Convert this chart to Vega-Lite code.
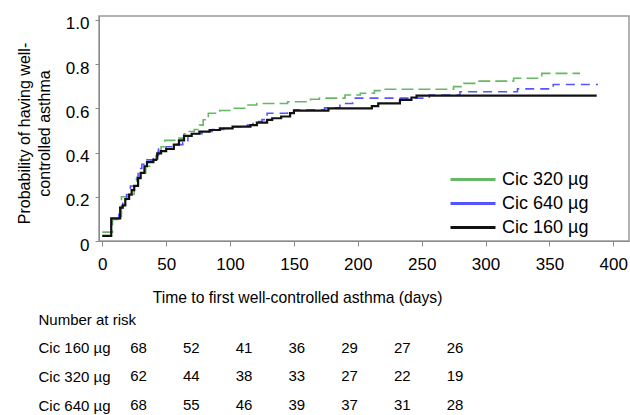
{
  "$schema": "https://vega.github.io/schema/vega-lite/v6.json",
  "autosize": {"type": "none"},
  "width": 530,
  "height": 225,
  "padding": {"left": 99, "top": 16, "right": 1, "bottom": 174},
  "config": {
    "font": "Liberation Sans",
    "view": {"stroke": "#9a9a9a", "strokeWidth": 1.5},
    "axis": {"grid": false, "domainColor": "#8a8a8a", "tickColor": "#8a8a8a", "labelColor": "#000", "titleColor": "#000", "titleFontWeight": "normal"}
  },
  "datasets": {
    "km": [
      {"group": "Cic 320 µg", "day": 0, "p": 0.040}, {"group": "Cic 320 µg", "day": 8, "p": 0.097}, {"group": "Cic 320 µg", "day": 15, "p": 0.200}, {"group": "Cic 320 µg", "day": 22, "p": 0.210}, {"group": "Cic 320 µg", "day": 25, "p": 0.249}, {"group": "Cic 320 µg", "day": 27, "p": 0.288}, {"group": "Cic 320 µg", "day": 30, "p": 0.308}, {"group": "Cic 320 µg", "day": 34, "p": 0.338}, {"group": "Cic 320 µg", "day": 38, "p": 0.367}, {"group": "Cic 320 µg", "day": 42, "p": 0.406}, {"group": "Cic 320 µg", "day": 46, "p": 0.426}, {"group": "Cic 320 µg", "day": 49, "p": 0.455}, {"group": "Cic 320 µg", "day": 60, "p": 0.465}, {"group": "Cic 320 µg", "day": 64, "p": 0.485}, {"group": "Cic 320 µg", "day": 68, "p": 0.495}, {"group": "Cic 320 µg", "day": 72, "p": 0.504}, {"group": "Cic 320 µg", "day": 76, "p": 0.524}, {"group": "Cic 320 µg", "day": 79, "p": 0.548}, {"group": "Cic 320 µg", "day": 83, "p": 0.578}, {"group": "Cic 320 µg", "day": 92, "p": 0.590}, {"group": "Cic 320 µg", "day": 102, "p": 0.600}, {"group": "Cic 320 µg", "day": 113, "p": 0.615}, {"group": "Cic 320 µg", "day": 121, "p": 0.622}, {"group": "Cic 320 µg", "day": 145, "p": 0.630}, {"group": "Cic 320 µg", "day": 163, "p": 0.641}, {"group": "Cic 320 µg", "day": 170, "p": 0.646}, {"group": "Cic 320 µg", "day": 190, "p": 0.660}, {"group": "Cic 320 µg", "day": 202, "p": 0.668}, {"group": "Cic 320 µg", "day": 213, "p": 0.680}, {"group": "Cic 320 µg", "day": 219, "p": 0.686}, {"group": "Cic 320 µg", "day": 275, "p": 0.698}, {"group": "Cic 320 µg", "day": 283, "p": 0.713}, {"group": "Cic 320 µg", "day": 293, "p": 0.723}, {"group": "Cic 320 µg", "day": 322, "p": 0.736}, {"group": "Cic 320 µg", "day": 344, "p": 0.758}, {"group": "Cic 320 µg", "day": 374, "p": 0.758},
      {"group": "Cic 640 µg", "day": 0, "p": 0.023}, {"group": "Cic 640 µg", "day": 7, "p": 0.102}, {"group": "Cic 640 µg", "day": 13, "p": 0.151}, {"group": "Cic 640 µg", "day": 16, "p": 0.171}, {"group": "Cic 640 µg", "day": 19, "p": 0.210}, {"group": "Cic 640 µg", "day": 22, "p": 0.249}, {"group": "Cic 640 µg", "day": 26, "p": 0.279}, {"group": "Cic 640 µg", "day": 28, "p": 0.328}, {"group": "Cic 640 µg", "day": 31, "p": 0.347}, {"group": "Cic 640 µg", "day": 35, "p": 0.367}, {"group": "Cic 640 µg", "day": 40, "p": 0.387}, {"group": "Cic 640 µg", "day": 44, "p": 0.416}, {"group": "Cic 640 µg", "day": 50, "p": 0.426}, {"group": "Cic 640 µg", "day": 57, "p": 0.436}, {"group": "Cic 640 µg", "day": 63, "p": 0.445}, {"group": "Cic 640 µg", "day": 67, "p": 0.475}, {"group": "Cic 640 µg", "day": 72, "p": 0.485}, {"group": "Cic 640 µg", "day": 78, "p": 0.495}, {"group": "Cic 640 µg", "day": 86, "p": 0.504}, {"group": "Cic 640 µg", "day": 95, "p": 0.509}, {"group": "Cic 640 µg", "day": 102, "p": 0.517}, {"group": "Cic 640 µg", "day": 110, "p": 0.524}, {"group": "Cic 640 µg", "day": 118, "p": 0.540}, {"group": "Cic 640 µg", "day": 125, "p": 0.549}, {"group": "Cic 640 µg", "day": 129, "p": 0.578}, {"group": "Cic 640 µg", "day": 145, "p": 0.585}, {"group": "Cic 640 µg", "day": 150, "p": 0.593}, {"group": "Cic 640 µg", "day": 174, "p": 0.602}, {"group": "Cic 640 µg", "day": 186, "p": 0.622}, {"group": "Cic 640 µg", "day": 196, "p": 0.646}, {"group": "Cic 640 µg", "day": 256, "p": 0.660}, {"group": "Cic 640 µg", "day": 280, "p": 0.675}, {"group": "Cic 640 µg", "day": 325, "p": 0.688}, {"group": "Cic 640 µg", "day": 353, "p": 0.708}, {"group": "Cic 640 µg", "day": 388, "p": 0.708},
      {"group": "Cic 160 µg", "day": 0, "p": 0.023}, {"group": "Cic 160 µg", "day": 7, "p": 0.102}, {"group": "Cic 160 µg", "day": 14, "p": 0.151}, {"group": "Cic 160 µg", "day": 16, "p": 0.161}, {"group": "Cic 160 µg", "day": 18, "p": 0.190}, {"group": "Cic 160 µg", "day": 21, "p": 0.210}, {"group": "Cic 160 µg", "day": 23, "p": 0.230}, {"group": "Cic 160 µg", "day": 25, "p": 0.249}, {"group": "Cic 160 µg", "day": 28, "p": 0.284}, {"group": "Cic 160 µg", "day": 30, "p": 0.308}, {"group": "Cic 160 µg", "day": 33, "p": 0.338}, {"group": "Cic 160 µg", "day": 35, "p": 0.357}, {"group": "Cic 160 µg", "day": 40, "p": 0.367}, {"group": "Cic 160 µg", "day": 43, "p": 0.396}, {"group": "Cic 160 µg", "day": 46, "p": 0.406}, {"group": "Cic 160 µg", "day": 50, "p": 0.416}, {"group": "Cic 160 µg", "day": 56, "p": 0.436}, {"group": "Cic 160 µg", "day": 60, "p": 0.455}, {"group": "Cic 160 µg", "day": 64, "p": 0.475}, {"group": "Cic 160 µg", "day": 70, "p": 0.485}, {"group": "Cic 160 µg", "day": 76, "p": 0.495}, {"group": "Cic 160 µg", "day": 84, "p": 0.502}, {"group": "Cic 160 µg", "day": 92, "p": 0.509}, {"group": "Cic 160 µg", "day": 102, "p": 0.517}, {"group": "Cic 160 µg", "day": 116, "p": 0.524}, {"group": "Cic 160 µg", "day": 121, "p": 0.535}, {"group": "Cic 160 µg", "day": 129, "p": 0.548}, {"group": "Cic 160 µg", "day": 133, "p": 0.555}, {"group": "Cic 160 µg", "day": 140, "p": 0.563}, {"group": "Cic 160 µg", "day": 147, "p": 0.578}, {"group": "Cic 160 µg", "day": 150, "p": 0.590}, {"group": "Cic 160 µg", "day": 177, "p": 0.600}, {"group": "Cic 160 µg", "day": 211, "p": 0.610}, {"group": "Cic 160 µg", "day": 216, "p": 0.622}, {"group": "Cic 160 µg", "day": 233, "p": 0.638}, {"group": "Cic 160 µg", "day": 242, "p": 0.649}, {"group": "Cic 160 µg", "day": 246, "p": 0.657}, {"group": "Cic 160 µg", "day": 387, "p": 0.657}
    ],
    "risk": [
      {"row": "Cic 160 µg", "time": 0, "n": 68}, {"row": "Cic 160 µg", "time": 50, "n": 52}, {"row": "Cic 160 µg", "time": 100, "n": 41}, {"row": "Cic 160 µg", "time": 150, "n": 36}, {"row": "Cic 160 µg", "time": 200, "n": 29}, {"row": "Cic 160 µg", "time": 250, "n": 27}, {"row": "Cic 160 µg", "time": 300, "n": 26},
      {"row": "Cic 320 µg", "time": 0, "n": 62}, {"row": "Cic 320 µg", "time": 50, "n": 44}, {"row": "Cic 320 µg", "time": 100, "n": 38}, {"row": "Cic 320 µg", "time": 150, "n": 33}, {"row": "Cic 320 µg", "time": 200, "n": 27}, {"row": "Cic 320 µg", "time": 250, "n": 22}, {"row": "Cic 320 µg", "time": 300, "n": 19},
      {"row": "Cic 640 µg", "time": 0, "n": 68}, {"row": "Cic 640 µg", "time": 50, "n": 55}, {"row": "Cic 640 µg", "time": 100, "n": 46}, {"row": "Cic 640 µg", "time": 150, "n": 39}, {"row": "Cic 640 µg", "time": 200, "n": 37}, {"row": "Cic 640 µg", "time": 250, "n": 31}, {"row": "Cic 640 µg", "time": 300, "n": 28}
    ]
  },
  "layer": [
    {
      "data": {"name": "km"},
      "mark": {"type": "line", "interpolate": "step-after"},
      "encoding": {
        "x": {
          "field": "day", "type": "quantitative",
          "scale": {"domain": [-2.58, 412.3], "nice": false, "zero": false},
          "axis": {
            "values": [0, 50, 100, 150, 200, 250, 300, 350, 400],
            "title": "Time to first well-controlled asthma (days)",
            "titleFontSize": 15.7, "titleX": 198, "titleY": 56, "titleBaseline": "middle", "titleAlign": "center",
            "labelFontSize": 17, "labelPadding": 10, "tickSize": 5, "labelFlush": false
          }
        },
        "y": {
          "field": "p", "type": "quantitative",
          "scale": {"domain": [0, 1.0175], "nice": false, "zero": false},
          "axis": {
            "values": [0, 0.2, 0.4, 0.6, 0.8, 1.0],
            "labelExpr": "datum.value == 0 ? '0' : format(datum.value, '.1f')",
            "title": ["Probability of having well-", "controlled asthma"],
            "titleFontSize": 16, "titleLineHeight": 20, "titleX": -67, "titleY": 117, "titleBaseline": "bottom", "titleAlign": "center", "titleAngle": -90,
            "labelFontSize": 17, "labelPadding": 6, "tickSize": 4, "labelOffset": 4, "labelFlush": false
          }
        },
        "color": {
          "field": "group", "type": "nominal",
          "scale": {"domain": ["Cic 320 µg", "Cic 640 µg", "Cic 160 µg"], "range": ["#66b866", "#5555ff", "#111111"]},
          "legend": {
            "title": null, "orient": "none", "legendX": 363.5, "legendY": 153,
            "symbolType": "M-2.5,0H2.5", "symbolSize": 324, "symbolStrokeWidth": 3,
            "labelFontSize": 18, "labelOffset": 18.5, "rowPadding": 4, "padding": 0, "labelColor": "#000"
          }
        },
        "strokeDash": {
          "condition": [
            {"test": "datum.group === 'Cic 320 µg'", "value": [12, 5]},
            {"test": "datum.group === 'Cic 640 µg'", "value": [9, 6]}
          ],
          "value": [1, 0]
        },
        "strokeWidth": {
          "condition": {"test": "datum.group === 'Cic 160 µg'", "value": 2.2},
          "value": 1.6
        }
      }
    },
    {
      "data": {"name": "risk"},
      "mark": {"type": "text", "fontSize": 15, "align": "center", "baseline": "middle", "color": "#000"},
      "encoding": {
        "x": {"field": "time", "type": "quantitative", "scale": {"domain": [0, 300], "range": [39.5, 356], "nice": false, "zero": false}, "axis": null},
        "y": {
          "field": "row", "type": "nominal",
          "scale": {"type": "point", "domain": ["Number at risk", "Cic 160 µg", "Cic 320 µg", "Cic 640 µg"], "range": [303.3, 389], "padding": 0},
          "axis": {"orient": "left", "title": null, "domain": false, "ticks": false, "tickSize": 0, "labelPadding": 61, "labelAlign": "left", "labelFontSize": 15, "labelBaseline": "middle", "grid": false}
        },
        "text": {"field": "n", "type": "quantitative"}
      }
    }
  ],
  "resolve": {"scale": {"x": "independent", "y": "independent"}}
}
